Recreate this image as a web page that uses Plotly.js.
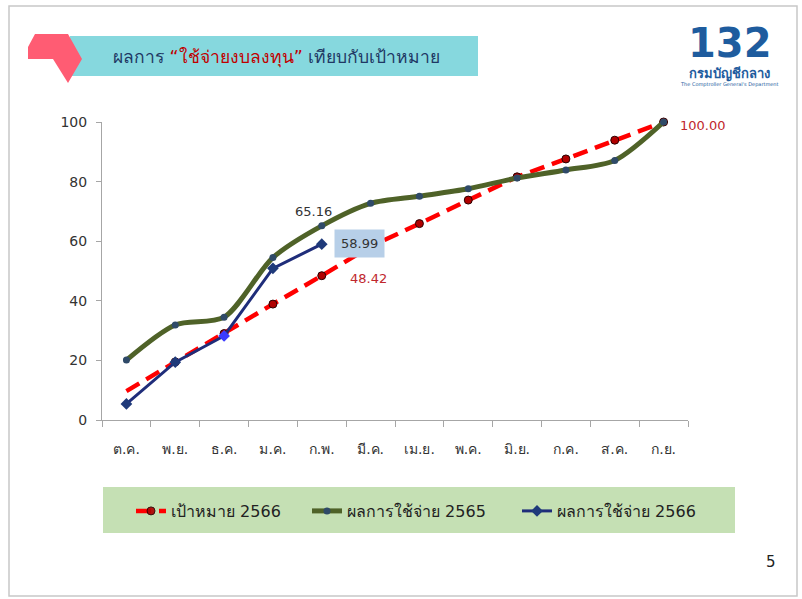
<!DOCTYPE html>
<html><head><meta charset="utf-8">
<script src="https://cdn.plot.ly/plotly-3.0.1.min.js"></script>
<style>html,body{margin:0;padding:0;background:#fff;} #chart{width:802px;height:599px;}</style>
</head><body><div id="chart"></div>
<script>
const months = ['ต.ค.','พ.ย.','ธ.ค.','ม.ค.','ก.พ.','มี.ค.','เม.ย.','พ.ค.','มิ.ย.','ก.ค.','ส.ค.','ก.ย.'];
const target2566 = [9.7, 19.5, 29.0, 38.9, 48.42, 58.2, 65.9, 73.8, 81.6, 87.6, 93.9, 100.00];
const actual2565 = [20.1, 31.9, 34.5, 54.5, 65.16, 72.7, 75.1, 77.6, 81.2, 83.9, 87.1, 100];
const actual2566 = [5.4, 19.4, 28.2, 50.9, 58.99];
const seriesNames = ['เป้าหมาย 2566', 'ผลการใช้จ่าย 2565', 'ผลการใช้จ่าย 2566'];
const yTicks = [0, 20, 40, 60, 80, 100];

const L = 102, R = 688, T = 122, B = 420;
const W = R - L, H = B - T;
const px = x => (x - L) / W;
const py = y => (B - y) / H;
const FONT = "Tahoma, 'DejaVu Sans', 'Noto Sans', sans-serif";

const traces = [
  {x: months, y: target2566, name: seriesNames[0], type: 'scatter', mode: 'lines+markers', legend: 'legend',
   line: {color: '#FF0000', width: 4.5, dash: '15px,8px'},
   marker: {symbol: 'circle', size: 8, color: '#B00000', line: {color: '#2a0000', width: 1},
            opacity: months.map((m, i) => i === 0 ? 0 : 1)},
   cliponaxis: false},
  {x: months, y: actual2565, name: seriesNames[1], type: 'scatter', mode: 'lines+markers', legend: 'legend2',
   line: {color: '#4F6228', width: 5, shape: 'spline', smoothing: 0.8},
   marker: {symbol: 'circle', size: 7, color: '#2F4A68'},
   cliponaxis: false},
  {x: months.slice(0, actual2566.length), y: actual2566, name: seriesNames[2], type: 'scatter', mode: 'lines+markers', legend: 'legend3',
   line: {color: '#1F2D7A', width: 3},
   marker: {symbol: 'diamond', size: 9, color: ['#1F3A7A','#1F3A7A','#3B3BFF','#1F3A7A','#1F3A7A']},
   cliponaxis: false}
];

const legendBase = {orientation: 'h', xanchor: 'left', y: py(511), yanchor: 'middle',
  bgcolor: 'rgba(0,0,0,0)', font: {size: 16, color: '#222', family: FONT}, itemwidth: 30};

const last = months.length - 1;
const feb = 4;
const layout = {
  width: 802, height: 599,
  margin: {l: L, r: 802 - R, t: T, b: 599 - B},
  paper_bgcolor: '#ffffff', plot_bgcolor: 'rgba(0,0,0,0)',
  font: {family: FONT, color: '#333'},
  showlegend: true,
  legend: Object.assign({}, legendBase, {x: px(131)}),
  legend2: Object.assign({}, legendBase, {x: px(307)}),
  legend3: Object.assign({}, legendBase, {x: px(517)}),
  xaxis: {type: 'category', categoryarray: months, range: [-0.5, months.length - 0.5], autorange: false,
          tickson: 'boundaries', ticks: 'outside', ticklen: 6,
          tickcolor: '#A6A6A6', showline: true, linecolor: '#A6A6A6', linewidth: 1, showgrid: false,
          tickfont: {size: 14, color: '#333'}, ticklabelstandoff: 16, fixedrange: true},
  yaxis: {range: [0, 100], autorange: false, tickvals: yTicks, ticks: 'outside', ticklen: 5, tickcolor: '#A6A6A6',
          showline: true, linecolor: '#A6A6A6', linewidth: 1, showgrid: false, zeroline: false,
          tickfont: {size: 14, color: '#333'}, ticklabelstandoff: 6, fixedrange: true},
  shapes: [
    {type: 'rect', xref: 'paper', yref: 'paper', x0: px(9), x1: px(797), y0: py(596), y1: py(6),
     line: {color: '#C8C8C8', width: 1.5}, fillcolor: 'rgba(0,0,0,0)', layer: 'below'},
    {type: 'rect', xref: 'paper', yref: 'paper', x0: px(70), x1: px(478), y0: py(76), y1: py(36),
     line: {width: 0}, fillcolor: '#86D8DE', layer: 'below'},
    {type: 'path', xref: 'paper', yref: 'paper', layer: 'below', fillcolor: '#FF5C73', line: {width: 0},
     path: 'M ' + [[28,47],[35,34],[68,34],[82,59],[68,83],[53,59],[28,59]].map(p => px(p[0]) + ',' + py(p[1])).join(' L ') + ' Z'},
    {type: 'rect', xref: 'paper', yref: 'paper', x0: px(103), x1: px(735), y0: py(533), y1: py(487),
     line: {width: 0}, fillcolor: '#C5E0B4', layer: 'below'}
  ],
  annotations: [
    {xref: 'paper', yref: 'paper', x: px(276), y: py(57), showarrow: false, xanchor: 'center', yanchor: 'middle',
     text: '<span style="color:#1F3864">ผลการ </span><span style="color:#C00000">“ใช้จ่ายงบลงทุน”</span><span style="color:#1F3864"> เทียบกับเป้าหมาย</span>',
     font: {size: 17.5, family: FONT}},
    {xref: 'paper', yref: 'paper', x: px(730), y: py(43), showarrow: false, xanchor: 'center', yanchor: 'middle',
     text: '<b>132</b>', font: {size: 40, color: '#1E5C9E', family: "'DejaVu Sans', sans-serif"}},
    {xref: 'paper', yref: 'paper', x: px(729), y: py(74), showarrow: false, xanchor: 'center', yanchor: 'middle',
     text: '<b>กรมบัญชีกลาง</b>', font: {size: 13, color: '#1E5C9E', family: FONT}},
    {xref: 'paper', yref: 'paper', x: px(729), y: py(84), showarrow: false, xanchor: 'center', yanchor: 'middle',
     text: "The Comptroller General's Department", font: {size: 5, color: '#1E5C9E', family: FONT}},
    {xref: 'paper', yref: 'paper', x: px(771), y: py(562), showarrow: false, xanchor: 'center', yanchor: 'middle',
     text: '5', font: {size: 15, color: '#222', family: FONT}},
    {x: months[feb], y: actual2565[feb], showarrow: false, xanchor: 'center', yanchor: 'bottom', xshift: -8, yshift: 5,
     text: actual2565[feb].toFixed(2), font: {size: 13, color: '#333', family: FONT}},
    {x: months[feb], y: actual2566[feb], showarrow: false, xanchor: 'left', yanchor: 'middle', xshift: 12, yshift: 1,
     text: actual2566[feb].toFixed(2), font: {size: 13, color: '#333', family: FONT},
     bgcolor: '#B7CFE8', borderpad: 6},
    {x: months[feb], y: target2566[feb], showarrow: false, xanchor: 'left', yanchor: 'middle', xshift: 26, yshift: -3,
     text: target2566[feb].toFixed(2), font: {size: 13, color: '#C0272D', family: FONT}},
    {x: months[last], y: target2566[last], showarrow: false, xanchor: 'left', yanchor: 'middle', xshift: 14, yshift: -3,
     text: target2566[last].toFixed(2), font: {size: 13, color: '#C0272D', family: FONT}}
  ]
};

Plotly.newPlot('chart', traces, layout, {displayModeBar: false, staticPlot: true});
</script>
</body></html>
